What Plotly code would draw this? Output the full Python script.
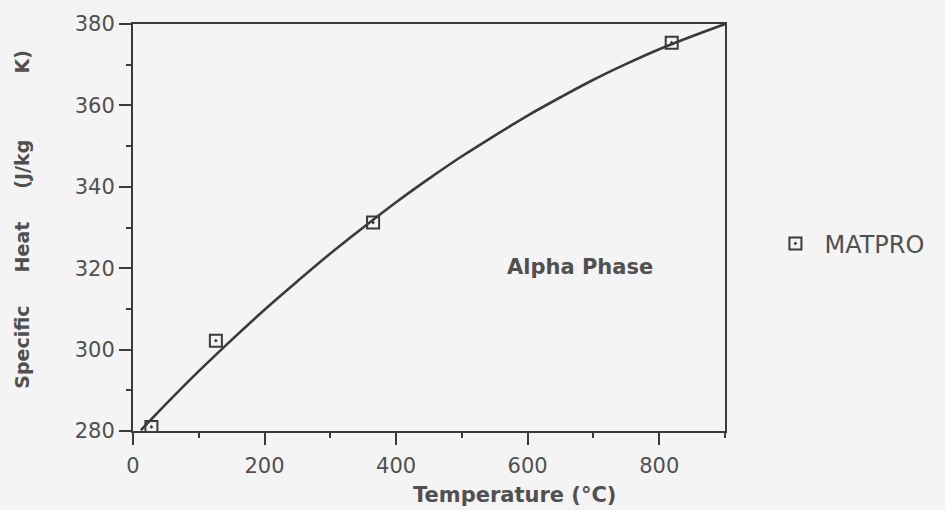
import plotly.graph_objects as go

# Fitted curve
curve_temp = [12, 50, 100, 150, 200, 250, 300, 350, 400, 450, 500, 550, 600,
              650, 700, 750, 800, 850, 900]
curve_cp = [280.2, 286.6, 294.7, 302.4, 309.8, 316.8, 323.6, 330.0, 336.2, 342.0,
            347.5, 352.6, 357.5, 362.0, 366.3, 370.2, 373.8, 377.0, 380.0]

# MATPRO data points
matpro_temp = [28, 126, 365, 819]
matpro_cp = [281.0, 302.2, 331.2, 375.4]

x_ticks = [0, 200, 400, 600, 800]
y_ticks = [280, 300, 320, 340, 360, 380]

ink = "#3a3a3a"
txt = "#505050"
bg = "#f4f4f4"

fig = go.Figure()
fig.add_trace(go.Scatter(
    x=curve_temp, y=curve_cp, mode="lines",
    line=dict(color=ink, width=2.6, shape="spline"),
    showlegend=False, hoverinfo="skip"))
fig.add_trace(go.Scatter(
    x=matpro_temp, y=matpro_cp, mode="markers", name="MATPRO",
    marker=dict(symbol="square-open-dot", size=12, color=ink,
                line=dict(color=ink, width=2))))

axis_common = dict(
    showline=True, linecolor=ink, linewidth=2, mirror=True,
    ticks="outside", ticklen=12, tickwidth=2, tickcolor=ink,
    showgrid=False, zeroline=False,
    tickfont=dict(family="DejaVu Sans", size=21, color=txt),
)

fig.update_xaxes(range=[0, 900], tickvals=x_ticks, ticklabelstandoff=3,
                 minor=dict(dtick=100, ticks="outside", ticklen=5, tickcolor=ink, tickwidth=2),
                 **axis_common)
fig.update_yaxes(range=[280, 380], tickvals=y_ticks,
                 minor=dict(dtick=10, ticks="outside", ticklen=5, tickcolor=ink, tickwidth=2),
                 **axis_common)

nb = "\u00a0"
fig.add_annotation(
    text="Specific" + nb * 5 + "Heat" + nb * 5 + "(J/kg" + nb * 10 + "K)",
    textangle=-90, xref="paper", yref="paper", x=-0.1875, y=0.519,
    xanchor="center", yanchor="middle", showarrow=False,
    font=dict(family="DejaVu Sans", size=19, color=txt, weight="bold"))
fig.add_annotation(
    text="Temperature (°C)", xref="paper", yref="paper", x=0.644, y=-0.157,
    xanchor="center", yanchor="middle", showarrow=False,
    font=dict(family="DejaVu Sans", size=21, color=txt, weight="bold"))
fig.add_annotation(
    text="Alpha Phase", x=679, y=320.3, xref="x", yref="y",
    xanchor="center", yanchor="middle", showarrow=False,
    font=dict(family="DejaVu Sans", size=21, color=txt, weight="bold"))

fig.update_layout(
    width=945, height=510,
    margin=dict(l=133, r=220, t=19, b=79),
    paper_bgcolor=bg, plot_bgcolor=bg,
    legend=dict(x=1.07, y=0.46, xanchor="left", yanchor="middle",
                itemwidth=48, bgcolor="rgba(0,0,0,0)",
                font=dict(family="DejaVu Sans", size=24, color=txt)),
)

fig.write_html("out.html")
